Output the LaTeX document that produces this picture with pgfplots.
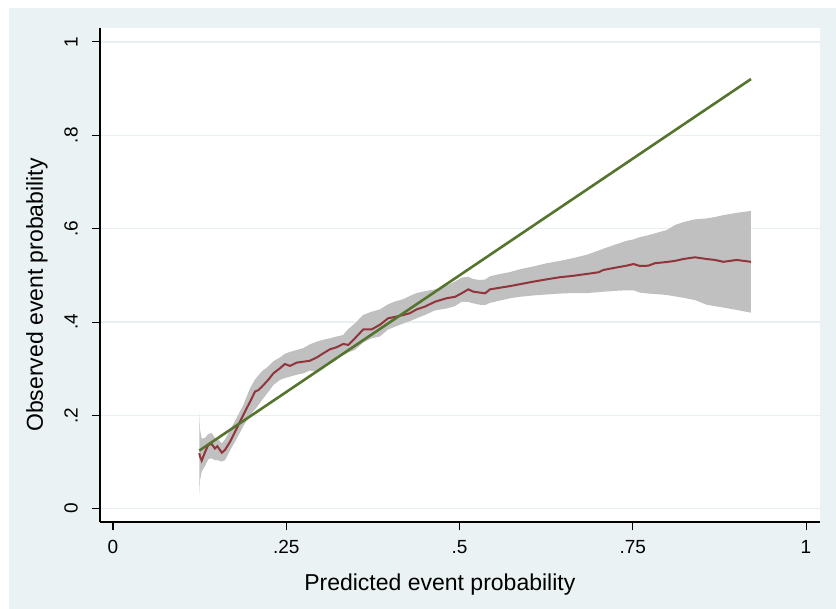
\documentclass[border=0pt]{standalone}
\usepackage{pgfplots}
\pgfplotsset{compat=1.18}
\usepackage{pgfplotstable}
\usepackage{fontspec}
\setmainfont{Liberation Sans}
\definecolor{bgblue}{RGB}{234,242,243}
\definecolor{gridc}{RGB}{232,240,242}
\definecolor{maroonS}{RGB}{144,53,59}
\definecolor{forestS}{RGB}{85,117,47}
\definecolor{ciGray}{RGB}{192,192,192}

% smoothed observed probability
\pgfplotstableread{
x y
0.1245 0.119
0.1255 0.112
0.128 0.103
0.133 0.122
0.1375 0.1365
0.1424 0.1386
0.147 0.129
0.1505 0.134
0.157 0.120
0.1616 0.126
0.169 0.1436
0.1785 0.172
0.188 0.2008
0.1977 0.229
0.205 0.251
0.2097 0.254
0.2146 0.261
0.224 0.276
0.2314 0.290
0.241 0.301
0.248 0.310
0.2554 0.306
0.265 0.313
0.2746 0.315
0.284 0.317
0.294 0.324
0.3035 0.333
0.313 0.3415
0.3228 0.346
0.332 0.353
0.3396 0.351
0.349 0.365
0.361 0.384
0.373 0.384
0.385 0.394
0.397 0.408
0.407 0.411
0.419 0.415
0.4286 0.419
0.438 0.427
0.450 0.433
0.4646 0.4435
0.4815 0.451
0.4935 0.454
0.503 0.4615
0.5127 0.470
0.520 0.465
0.5296 0.463
0.537 0.4615
0.544 0.470
0.5584 0.4735
0.573 0.477
0.587 0.481
0.6065 0.4865
0.626 0.4915
0.645 0.496
0.664 0.499
0.6835 0.503
0.7004 0.5065
0.7075 0.5115
0.727 0.517
0.741 0.5207
0.751 0.5243
0.7605 0.520
0.7725 0.5207
0.782 0.526
0.799 0.5286
0.811 0.531
0.823 0.535
0.8398 0.5387
0.8567 0.535
0.8687 0.533
0.8807 0.529
0.9 0.533
0.9206 0.529
}\caldata

% confidence band: upper bound left to right, then lower bound right to left
\pgfplotstableread{
x y
0.1245 0.208
0.1255 0.170
0.128 0.150
0.133 0.152
0.1375 0.160
0.1424 0.162
0.147 0.152
0.1505 0.150
0.157 0.140
0.1616 0.148
0.169 0.168
0.1785 0.195
0.188 0.222
0.1977 0.258
0.205 0.277
0.2097 0.285
0.2146 0.294
0.224 0.305
0.2314 0.316
0.241 0.324
0.248 0.332
0.2554 0.336
0.265 0.340
0.2746 0.344
0.284 0.352
0.294 0.358
0.3035 0.362
0.313 0.365
0.3228 0.369
0.332 0.372
0.3396 0.385
0.349 0.397
0.361 0.415
0.373 0.422
0.385 0.427
0.397 0.438
0.407 0.444
0.419 0.449
0.4286 0.456
0.438 0.462
0.450 0.466
0.4646 0.470
0.4815 0.478
0.4935 0.487
0.503 0.495
0.5127 0.497
0.520 0.492
0.5296 0.490
0.537 0.491
0.544 0.498
0.5584 0.503
0.573 0.507
0.587 0.513
0.6065 0.519
0.626 0.526
0.645 0.531
0.664 0.537
0.6835 0.544
0.7004 0.553
0.7075 0.557
0.727 0.567
0.741 0.574
0.751 0.577
0.7605 0.582
0.7725 0.586
0.782 0.590
0.799 0.597
0.811 0.608
0.823 0.614
0.8398 0.620
0.8567 0.622
0.8687 0.625
0.8807 0.629
0.9 0.634
0.9206 0.638
0.9206 0.420
0.9 0.426
0.8807 0.431
0.8687 0.434
0.8567 0.437
0.8398 0.447
0.823 0.452
0.811 0.455
0.799 0.458
0.782 0.460
0.7725 0.461
0.7605 0.463
0.751 0.468
0.741 0.468
0.727 0.467
0.7075 0.465
0.7004 0.464
0.6835 0.462
0.664 0.462
0.645 0.461
0.626 0.459
0.6065 0.457
0.587 0.454
0.573 0.451
0.5584 0.446
0.544 0.441
0.537 0.4365
0.5296 0.437
0.520 0.440
0.5127 0.443
0.503 0.4435
0.4935 0.434
0.4815 0.429
0.4646 0.425
0.450 0.415
0.438 0.408
0.4286 0.402
0.419 0.397
0.407 0.390
0.397 0.384
0.385 0.369
0.373 0.365
0.361 0.356
0.349 0.340
0.3396 0.335
0.332 0.329
0.3228 0.322
0.313 0.315
0.3035 0.305
0.294 0.2935
0.284 0.296
0.2746 0.290
0.265 0.287
0.2554 0.283
0.248 0.280
0.241 0.276
0.2314 0.265
0.224 0.250
0.2146 0.232
0.2097 0.222
0.205 0.213
0.1977 0.200
0.188 0.177
0.1785 0.150
0.169 0.125
0.1616 0.104
0.157 0.101
0.1505 0.104
0.147 0.104
0.1424 0.108
0.1375 0.106
0.133 0.092
0.128 0.080
0.1255 0.060
0.1245 0.029
}\banddata

\begin{document}
\begin{tikzpicture}
\fill[white] (0,0) rectangle (418pt,-304.5pt);
\fill[bgblue] (4.5pt,-4pt) rectangle (418pt,-304.5pt);
\begin{axis}[
  at={(50pt,-261pt)}, anchor=south west,
  scale only axis, width=360pt, height=247pt,
  xmin=-0.01876, xmax=1.0202, ymin=-0.0285, ymax=1.030,
  axis background/.style={fill=white},
  axis x line*=bottom, axis y line*=left,
  axis line style={black, line width=0.6pt},
  tick align=outside, major tick length=4.2pt,
  tick style={black, line width=0.5pt},
  xtick={0,0.25,0.5,0.75,1}, xticklabels={0,.25,.5,.75,1},
  ytick={0,0.2,0.4,0.6,0.8,1}, yticklabels={0,.2,.4,.6,.8,1},
  /pgf/number format/assume math mode=true,
  ymajorgrids, grid style={gridc, line width=0.7pt},
  ticklabel style={font=\fontsize{9.5}{11}\selectfont},
  xticklabel style={anchor=base, yshift=-11.5pt},
  yticklabel style={rotate=90, anchor=base, yshift=7pt},
  xlabel={Predicted event probability},
  ylabel={Observed event probability},
  label style={font=\fontsize{11.5}{13}\selectfont},
  xlabel style={at={(axis description cs:0.472,-0.1377)}, anchor=base},
  ylabel style={at={(axis description cs:-0.0792,0.4595)}, anchor=base},
  clip=false,
]
\addplot[fill=ciGray, draw=none] table[x=x, y=y] {\banddata} -- cycle;
\addplot[maroonS, line width=1pt] table[x=x, y=y] {\caldata};
\addplot[forestS, line width=1.3pt] coordinates {(0.1245,0.1245) (0.9206,0.9206)};
\end{axis}
\pgfresetboundingbox
\path[use as bounding box] (0,0) rectangle (418pt,-304.5pt);
\end{tikzpicture}
\end{document}
